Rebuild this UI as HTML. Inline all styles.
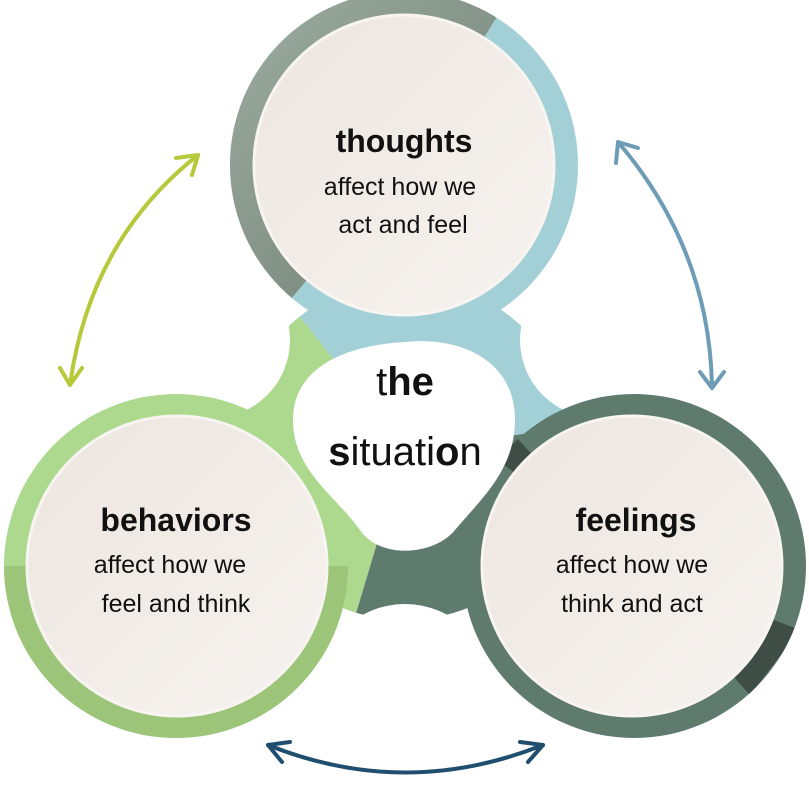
<!DOCTYPE html>
<html><head><meta charset="utf-8"><style>
html,body{margin:0;padding:0;background:#fff;}
svg{display:block;}
text{font-family:"Liberation Sans",sans-serif;fill:#111;}
</style></head><body>
<svg width="809" height="803" viewBox="0 0 809 803" xmlns="http://www.w3.org/2000/svg">
<defs>
<linearGradient id="inner" x1="0" y1="0" x2="1" y2="1">
<stop offset="0" stop-color="#ede5df"/><stop offset="1" stop-color="#f6f3f0"/>
</linearGradient>
<linearGradient id="gray" x1="0" y1="0" x2="1" y2="1">
<stop offset="0" stop-color="#9fb0a4"/><stop offset="1" stop-color="#6d7a70"/>
</linearGradient>
<clipPath id="topc"><circle cx="404" cy="165" r="174"/></clipPath>
<clipPath id="behc"><circle cx="176" cy="566" r="172"/></clipPath>
<clipPath id="feec"><circle cx="634" cy="566" r="172"/></clipPath>
<clipPath id="midc"><circle cx="405" cy="450" r="170"/></clipPath>
</defs>
<!-- central connector sectors -->
<g clip-path="url(#midc)">
<path d="M405,450 L200,190 L405,150 L700,150 L700,410 Z" fill="#a3d0d6"/>
<path d="M405,450 L200,190 L100,190 L100,700 L330,700 Z" fill="#add98f"/>
<path d="M405,450 L330,700 L700,700 L700,410 Z" fill="#5f7b6e"/>
</g>
<!-- white notches -->
<circle cx="212" cy="340" r="78" fill="#fff"/>
<circle cx="598" cy="340" r="78" fill="#fff"/>
<circle cx="405" cy="692" r="88" fill="#fff"/>
<!-- top circle -->
<circle cx="404" cy="165" r="174" fill="#a3d0d6"/>
<g clip-path="url(#topc)"><path d="M404,165 L520,-20 L200,-20 L200,330 L290,300 Z" fill="url(#gray)"/></g>
<circle cx="404" cy="165" r="150" fill="url(#inner)" stroke="#f8f4f1" stroke-width="3"/>
<!-- behaviors -->
<circle cx="176" cy="566" r="172" fill="#add98f"/>
<g clip-path="url(#behc)"><rect x="0" y="566" width="360" height="180" fill="#9cc57a"/></g>
<circle cx="177" cy="566" r="150" fill="url(#inner)" stroke="#f8f4f1" stroke-width="3"/>
<!-- feelings -->
<circle cx="634" cy="566" r="172" fill="#5f7b6e"/>
<g clip-path="url(#feec)">
<path d="M634,566 L505,425 L485,450 Z" fill="#3e4d45"/>
<path d="M634,566 L800,630 L750,695 Z" fill="#3e4d45"/>
</g>
<circle cx="632" cy="566" r="150" fill="url(#inner)" stroke="#f8f4f1" stroke-width="3"/>
<!-- center -->
<path d="M405,342 C460,336 515,360 515,420 C515,470 480,500 455,530 C435,555 380,560 360,530 C335,495 293,470 293,420 C293,365 350,345 405,342 Z" fill="#fff"/>
<text x="405" y="395" text-anchor="middle" font-size="40">t<tspan font-weight="bold">he</tspan></text>
<text x="405" y="465" text-anchor="middle" font-size="40"><tspan font-weight="bold">s</tspan>ituati<tspan font-weight="bold">o</tspan>n</text>
<!-- labels -->
<text x="404" y="152" text-anchor="middle" font-size="32" font-weight="bold">thoughts</text>
<text x="400" y="195" text-anchor="middle" font-size="25">affect how we</text>
<text x="403" y="233" text-anchor="middle" font-size="25">act and feel</text>
<text x="176" y="531" text-anchor="middle" font-size="32" font-weight="bold">behaviors</text>
<text x="170" y="573" text-anchor="middle" font-size="25">affect how we</text>
<text x="176" y="612" text-anchor="middle" font-size="25">feel and think</text>
<text x="636" y="531" text-anchor="middle" font-size="32" font-weight="bold">feelings</text>
<text x="632" y="573" text-anchor="middle" font-size="25">affect how we</text>
<text x="632" y="612" text-anchor="middle" font-size="25">think and act</text>
<!-- arrows -->
<g fill="none" stroke-width="4" stroke-linecap="round" stroke-linejoin="round">
<g stroke="#b5c93a">
<path d="M198,155 Q90,240 70,385"/>
<path d="M176,158 L198,155 L192,175"/>
<path d="M60,368 L70,385 L82,368"/>
</g>
<g stroke="#6e9cb7">
<path d="M618,142 Q710,250 712,388"/>
<path d="M616,163 L618,142 L638,148"/>
<path d="M700,372 L712,388 L724,372"/>
</g>
<g stroke="#1f4e6e">
<path d="M268,745 Q405,800 543,745"/>
<path d="M290,742 L268,745 L282,762"/>
<path d="M528,762 L543,745 L520,742"/>
</g>
</g>
</svg>
</body></html>
